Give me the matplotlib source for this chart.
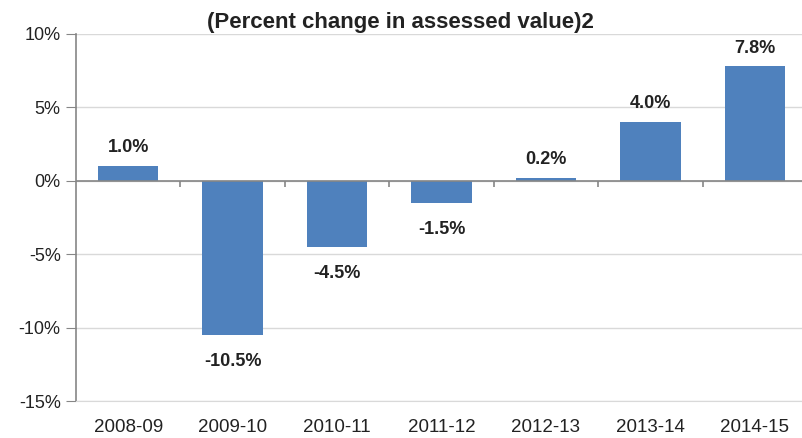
import numpy as np
import matplotlib.pyplot as plt
from matplotlib.ticker import FuncFormatter

plt.rcParams['font.family'] = ['Liberation Sans', 'DejaVu Sans']

years = ['2008-09', '2009-10', '2010-11', '2011-12', '2012-13', '2013-14', '2014-15']
change = [1.0, -10.5, -4.5, -1.5, 0.2, 4.0, 7.8]
yticks = [-15, -10, -5, 0, 5, 10]

bar_color = '#4f81bd'
grid_color = '#d9d9d9'
axis_color = '#868686'
text_color = '#222222'

fig = plt.figure(figsize=(8.02, 4.38), dpi=100)
# axes runs a little past the right edge of the figure
ax = fig.add_axes([76 / 802, 37 / 438, 731 / 802, 367 / 438])

x = np.arange(len(years))
ax.bar(x, change, width=0.58, color=bar_color, zorder=3)

ax.set_xlim(-0.5, len(years) - 0.5)
ax.set_ylim(-15, 10)
ax.set_yticks(yticks)
ax.yaxis.set_major_formatter(FuncFormatter(lambda v, p: f'{v:.0f}%'))
ax.set_xticks(x)
ax.set_xticklabels(years)

ax.grid(axis='y', color=grid_color, linewidth=1, zorder=0)
for s in ['top', 'right']:
    ax.spines[s].set_visible(False)
ax.spines['bottom'].set_color(grid_color)
ax.spines['left'].set_color(axis_color)
ax.spines['left'].set_linewidth(1.2)
ax.tick_params(axis='y', length=7, color=axis_color, labelsize=13,
               labelcolor=text_color, pad=4)
ax.tick_params(axis='x', length=0, labelsize=13.5, labelcolor=text_color, pad=13)

# category axis crossing at zero, with ticks between categories
ax.axhline(0, color=axis_color, linewidth=1.2, zorder=4)
bounds = np.arange(len(years) - 1) + 0.5
ax.vlines(bounds, -0.45, 0, color=axis_color, linewidth=1.2, zorder=4)

for xi, v in zip(x, change):
    if v >= 0:
        ax.annotate(f'{v:.1f}%', (xi, v), xytext=(0, 7), textcoords='offset points',
                    ha='center', va='bottom', fontsize=13, fontweight='bold',
                    color=text_color)
    else:
        ax.annotate(f'{v:.1f}%', (xi, v), xytext=(0, -13), textcoords='offset points',
                    ha='center', va='top', fontsize=13, fontweight='bold',
                    color=text_color)

fig.text(400 / 802, 1 - 28 / 438, '(Percent change in assessed value)2', ha='center',
         va='baseline', fontsize=16, fontweight='bold', color=text_color)

fig.savefig('out.png', dpi=100)
